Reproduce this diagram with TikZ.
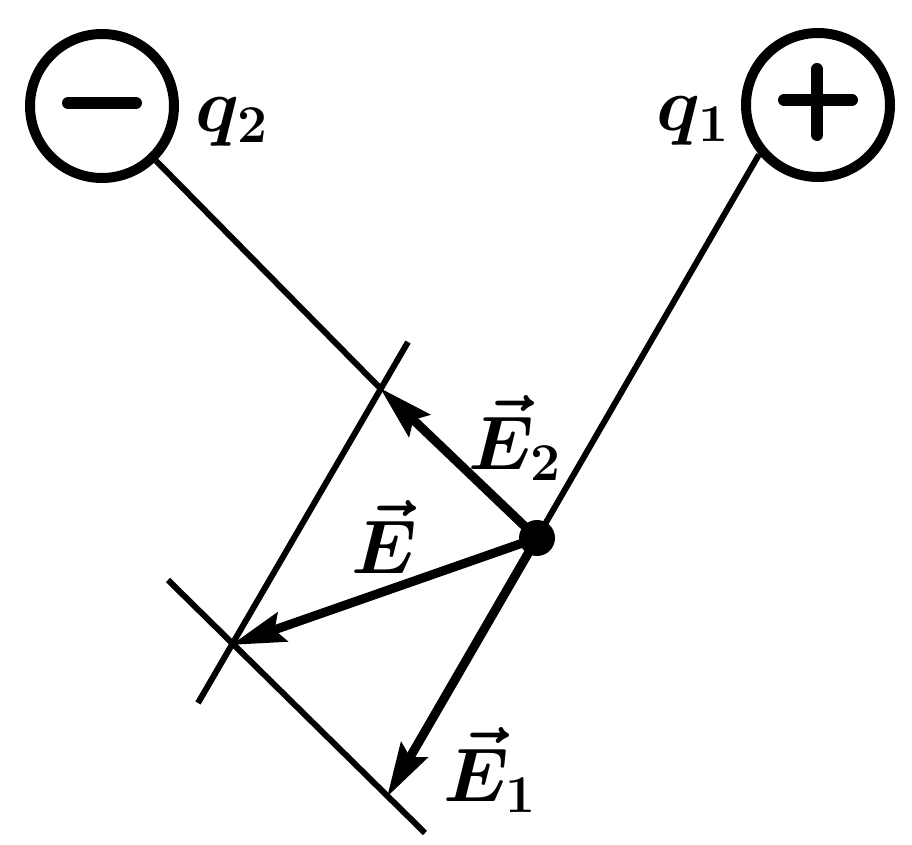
\RequirePackage{fix-cm}
\documentclass[tikz,border=0pt]{standalone}
\usetikzlibrary{arrows.meta}
\begin{document}
\begin{tikzpicture}[x=0.5pt,y=-0.5pt,
  charge/.style={circle,draw,line width=5pt,minimum size=72pt,inner sep=0pt},
  thin line/.style={line width=3pt},
  vecarrow/.style={line width=4.5pt,-{Stealth[length=27pt,width=15pt,inset=4pt]}},
  sign/.style={line width=6pt,line cap=round},
  lbl/.style={inner sep=0pt,font=\fontsize{38}{46}\selectfont\boldmath}
]
\useasboundingbox (0,0) rectangle (912,845);
% charges
\node[charge] (q2c) at (102,106) {};
\node[charge] (q1c) at (818,105) {};
\draw[sign] ([xshift=-17pt,yshift=1.5pt]q2c.center) -- ([xshift=17pt,yshift=1.5pt]q2c.center);
\draw[sign] ([xshift=-17pt,yshift=2.5pt]q1c.center) -- ([xshift=17pt,yshift=2.5pt]q1c.center);
\draw[sign] ([xshift=-0.5pt,yshift=18pt]q1c.center) -- ([xshift=-0.5pt,yshift=-15pt]q1c.center);
% points
\coordinate (P) at (537,538);
\coordinate (E2t) at (380,388);
\coordinate (Et) at (231,645);
\coordinate (E1t) at (387,797);
\coordinate (A1) at (408,342);
\coordinate (A2) at (198,703);
\coordinate (B1) at (168,580);
\coordinate (B2) at (425,833);
% lines
\draw[thin line] (q2c) -- (E2t);
\draw[thin line] (q1c.220) -- (P);
\draw[thin line] (A1) -- (A2);
\draw[thin line] (B1) -- (B2);
% vectors
\draw[vecarrow] (P) -- (E2t);
\draw[vecarrow] (P) -- (Et);
\draw[vecarrow] (P) -- (E1t);
\node[circle,fill,minimum size=18pt,inner sep=0pt] (Pdot) at (P) {};
% labels
\node[lbl] (lq2) at (232,122) {$q_2$};
\node[lbl] (lq1) at (693,121) {$q_1$};
\node[lbl] (lE2) at (515,438) {$\vec{E}_2$};
\node[lbl] (lE) at (384,537) {$\vec{E}$};
\node[lbl] (lE1) at (490,770) {$\vec{E}_1$};
\end{tikzpicture}
\end{document}
